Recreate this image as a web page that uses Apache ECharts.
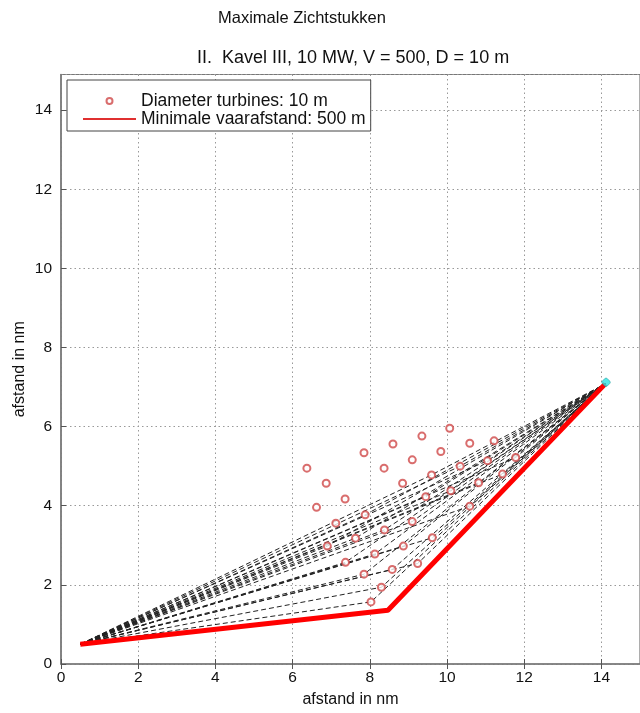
<!DOCTYPE html>
<html>
<head>
<meta charset="utf-8">
<script src="https://cdn.jsdelivr.net/npm/echarts@6/dist/echarts.min.js"></script>
<style>html,body{margin:0;padding:0;background:#fff}#c{width:640px;height:713px}</style>
</head>
<body>
<div id="c"></div>
<script>
// ---- data ----
const titleText = 'Maximale Zichtstukken';
const subtitleText = 'II.  Kavel III, 10 MW, V = 500, D = 10 m';
const xAxisName = 'afstand in nm';
const yAxisName = 'afstand in nm';
const turbineName = 'Diameter turbines: 10 m';
const routeName = 'Minimale vaarafstand: 500 m';

const turbineX = [6.37, 6.87, 6.62, 7.36, 7.12, 7.85, 7.88, 7.63, 6.90, 7.37, 7.85, 8.30, 8.03, 8.13, 8.38,
                  8.37, 8.60, 8.85, 9.10, 9.35, 9.10, 8.87, 8.58, 9.24, 9.62, 9.45, 9.60, 9.84, 10.07, 10.10,
                  10.34, 10.59, 10.59, 10.82, 11.05, 11.22, 11.44, 11.78];
const turbineY = [4.95, 4.57, 3.96, 4.17, 3.56, 5.34, 3.77, 3.18, 2.98, 2.57, 2.27, 1.94, 1.57, 2.78, 3.39,
                  4.95, 5.56, 4.57, 5.16, 5.76, 3.60, 2.98, 2.39, 2.54, 3.19, 4.23, 4.78, 5.37, 5.96, 4.38,
                  5.00, 3.99, 5.58, 4.58, 5.14, 5.64, 4.80, 5.22];

const routeX = [0.5, 8.47, 14.1];
const routeY = [0.5, 1.36, 7.08];

const viewStart = [0.5, 0.5];
const viewEnd = [14.1, 7.08];
// sight lines pass via these turbines (x, y)
const sightX = [9.60, 10.34, 9.45, 10.10, 10.82, 11.44, 10.59, 9.10, 8.38, 9.62, 8.87, 8.13, 9.24, 8.58,
                8.30, 8.03, 7.88, 7.63, 7.37, 7.85, 6.90, 11.78, 11.05];
const sightY = [4.78, 5.00, 4.23, 4.38, 4.58, 4.80, 3.99, 3.60, 3.39, 3.19, 2.98, 2.78, 2.54, 2.39,
                1.94, 1.57, 3.77, 3.18, 2.57, 2.27, 2.98, 5.22, 5.14];

const endMarkerX = [14.12];
const endMarkerY = [7.12];

const xMin = 0, xMax = 15, yMin = 0, yMax = 14.9, tickStep = 2;

// ---- build ----
const sightData = [];
for (let i = 0; i < sightX.length; i++) {
  sightData.push([viewStart[0], viewStart[1]]);
  sightData.push([sightX[i], sightY[i]]);
  sightData.push([viewEnd[0], viewEnd[1]]);
  sightData.push(['-', '-']);
}

const font = 'Liberation Sans, Arial, sans-serif';
const chart = echarts.init(document.getElementById('c'), null, {renderer: 'canvas'});
chart.setOption({
  backgroundColor: '#fff',
  animation: false,
  title: [
    {text: titleText, left: 218, top: 10, padding: 0, textStyle: {fontFamily: font, fontSize: 16.5, fontWeight: 'normal', color: '#111'}},
    {text: subtitleText, left: 197, top: 49, padding: 0, textStyle: {fontFamily: font, fontSize: 18, fontWeight: 'normal', color: '#111'}}
  ],
  grid: {left: 61, right: -16, top: 74.5, bottom: 49, show: true, borderColor: '#777', borderWidth: 1.2, backgroundColor: 'transparent'},
  legend: {
    orient: 'vertical', left: 67, top: 80,
    padding: [12, 5, 3, 15], itemGap: 0, itemWidth: 53, itemHeight: 6,
    backgroundColor: '#fff', borderColor: '#444', borderWidth: 1,
    textStyle: {fontFamily: font, fontSize: 17.5, color: '#111', lineHeight: 18},
    data: [
      {name: turbineName, icon: 'emptyCircle'},
      {name: routeName, itemStyle: {color: 'transparent', borderColor: 'transparent', opacity: 0}, lineStyle: {width: 2, color: '#e03030'}}
    ]
  },
  xAxis: [{
    type: 'value', min: xMin, max: xMax, interval: tickStep,
    name: xAxisName, nameLocation: 'middle', nameGap: 28, nameMoveOverlap: false,
    nameTextStyle: {fontFamily: font, fontSize: 16, color: '#111', verticalAlign: 'top'},
    axisLine: {show: true, onZero: false, lineStyle: {color: '#777', width: 1.5}},
    axisTick: {show: true, inside: true, length: 5, lineStyle: {color: '#555'}},
    axisLabel: {fontFamily: font, fontSize: 15.5, color: '#111', margin: 6, showMaxLabel: false},
    splitLine: {show: true, lineStyle: {color: '#999', type: [1.5, 3], width: 1}}
  }, {
    type: 'value', position: 'top', min: xMin, max: xMax, interval: tickStep,
    axisLine: {show: false}, axisTick: {show: true, inside: true, length: 5, lineStyle: {color: '#555'}},
    axisLabel: {show: false}, splitLine: {show: false}
  }],
  yAxis: [{
    type: 'value', min: yMin, max: yMax, interval: tickStep,
    name: yAxisName, nameLocation: 'middle', nameGap: 33, nameMoveOverlap: false,
    nameTextStyle: {fontFamily: font, fontSize: 16, color: '#111'},
    axisLine: {show: true, onZero: false, lineStyle: {color: '#777', width: 1.5}},
    axisTick: {show: true, inside: true, length: 5, lineStyle: {color: '#555'}},
    axisLabel: {fontFamily: font, fontSize: 15.5, color: '#111', margin: 9, showMaxLabel: false},
    splitLine: {show: true, lineStyle: {color: '#999', type: [1.5, 3], width: 1}}
  }],
  series: [
    {
      type: 'line', name: 'sight', data: sightData, symbol: 'none', connectNulls: false,
      lineStyle: {color: '#222', width: 1, type: [5, 3]}, z: 2, silent: true
    },
    {
      type: 'scatter', name: turbineName,
      data: turbineX.map((x, i) => [x, turbineY[i]]),
      symbol: 'emptyCircle', symbolSize: 7,
      itemStyle: {color: '#d04848', borderColor: '#d04848', borderWidth: 1.4}, z: 3
    },
    {
      type: 'line', name: routeName,
      data: routeX.map((x, i) => [x, routeY[i]]),
      symbol: 'none', lineStyle: {color: '#ff0000', width: 5}, z: 4
    },
    {
      type: 'scatter', name: 'end',
      data: endMarkerX.map((x, i) => [x, endMarkerY[i]]),
      symbol: 'roundRect', symbolSize: 7, symbolRotate: 45,
      itemStyle: {color: '#30e0e0', borderColor: '#1a9a9a', borderWidth: 0.6}, z: 5
    }
  ]
});
</script>
</body>
</html>
